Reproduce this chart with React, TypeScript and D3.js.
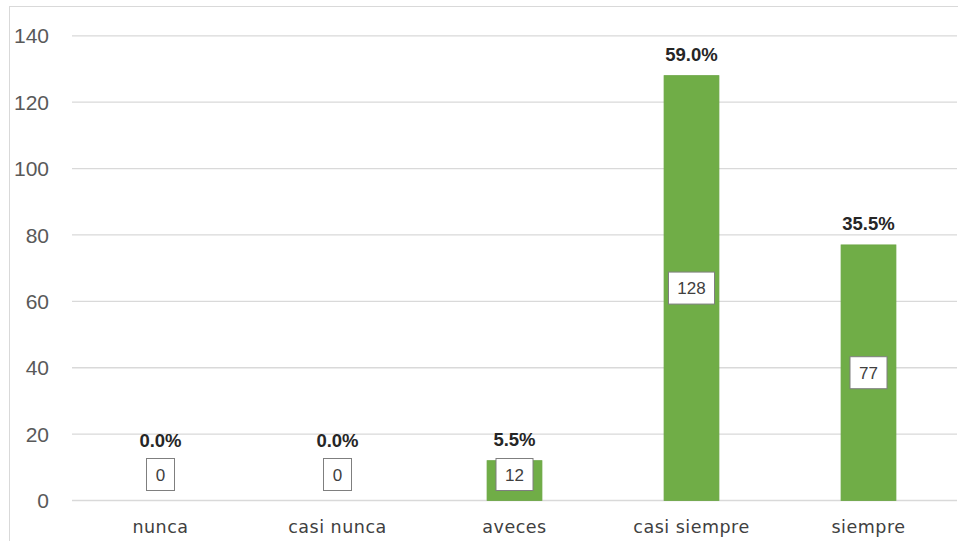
import { useRef, useEffect } from "react";
import * as d3 from "d3";

const categories = ["nunca", "casi nunca", "aveces", "casi siempre", "siempre"];
const counts = [0, 0, 12, 128, 77];
const yTicks = [0, 20, 40, 60, 80, 100, 120, 140];

const W = 958;
const H = 541;

export default function App() {
  const svgRef = useRef(null);

  useEffect(() => {
    const svg = d3.select(svgRef.current);
    svg.selectAll("*").remove();

    const total = d3.sum(counts);
    const pct = d3.format(".1%");

    // chart border
    svg
      .append("rect")
      .attr("x", 9.5)
      .attr("y", 6.5)
      .attr("width", W + 20)
      .attr("height", H + 20)
      .attr("fill", "white")
      .attr("stroke", "#d9d9d9");

    const x = d3.scaleBand().domain(categories).range([72, 957]).padding(0);
    const y = d3.scaleLinear().domain([0, 140]).range([500.5, 35.8]);
    const barW = x.bandwidth() * 0.31;

    // grid lines
    svg
      .append("g")
      .selectAll("line")
      .data(yTicks)
      .join("line")
      .attr("x1", 72)
      .attr("x2", 957)
      .attr("y1", (d) => y(d))
      .attr("y2", (d) => y(d))
      .attr("stroke", "#d9d9d9")
      .attr("stroke-width", 1.3);

    // y tick labels
    svg
      .append("g")
      .selectAll("text")
      .data(yTicks)
      .join("text")
      .attr("x", 49)
      .attr("y", (d) => y(d))
      .attr("dy", "0.36em")
      .attr("text-anchor", "end")
      .attr("font-family", "'Liberation Sans', Arial, sans-serif")
      .attr("font-size", 21)
      .attr("fill", "#595959")
      .text((d) => d);

    // bars
    svg
      .append("g")
      .selectAll("rect")
      .data(counts)
      .join("rect")
      .attr("x", (d, i) => x(categories[i]) + x.bandwidth() / 2 - barW / 2)
      .attr("y", (d) => y(d))
      .attr("width", barW)
      .attr("height", (d) => y(0) - y(d))
      .attr("fill", "#70ad47")
      .attr("stroke", "#6aa543")
      .attr("stroke-width", 0.8);

    // value boxes
    const boxH = 32;
    const boxW = (d) => String(d).length * 9 + 19;
    const boxCy = (d) => Math.min((y(d) + y(0)) / 2, y(0) - 26);
    const labels = svg.append("g").selectAll("g").data(counts).join("g");
    labels
      .append("rect")
      .attr("x", (d, i) => x(categories[i]) + x.bandwidth() / 2 - boxW(d) / 2)
      .attr("y", (d) => boxCy(d) - boxH / 2)
      .attr("width", boxW)
      .attr("height", boxH)
      .attr("fill", "white")
      .attr("stroke", "#7f7f7f")
      .attr("stroke-width", 1);
    labels
      .append("text")
      .attr("x", (d, i) => x(categories[i]) + x.bandwidth() / 2)
      .attr("y", (d) => boxCy(d))
      .attr("dy", "0.36em")
      .attr("text-anchor", "middle")
      .attr("font-family", "'Liberation Sans', Arial, sans-serif")
      .attr("font-size", 17)
      .attr("fill", "#404040")
      .text((d) => d);

    // percentage labels
    svg
      .append("g")
      .selectAll("text")
      .data(counts)
      .join("text")
      .attr("x", (d, i) => x(categories[i]) + x.bandwidth() / 2)
      .attr("y", (d) => Math.min(y(d) - 15, boxCy(d) - boxH / 2 - 12))
      .attr("text-anchor", "middle")
      .attr("font-family", "'Liberation Sans', Arial, sans-serif")
      .attr("font-weight", "bold")
      .attr("font-size", 18.5)
      .attr("fill", "#262626")
      .text((d) => pct(d / total));

    // x labels
    svg
      .append("g")
      .selectAll("text")
      .data(categories)
      .join("text")
      .attr("x", (d) => x(d) + x.bandwidth() / 2)
      .attr("y", 533)
      .attr("text-anchor", "middle")
      .attr("font-family", "'DejaVu Sans', sans-serif")
      .attr("font-size", 17.5)
      .attr("letter-spacing", 0.5)
      .attr("fill", "#404040")
      .text((d) => d);
  }, []);

  return (
    <svg
      ref={svgRef}
      width={W}
      height={H}
      style={{ position: "absolute", left: 0, top: 0, background: "white" }}
    />
  );
}
